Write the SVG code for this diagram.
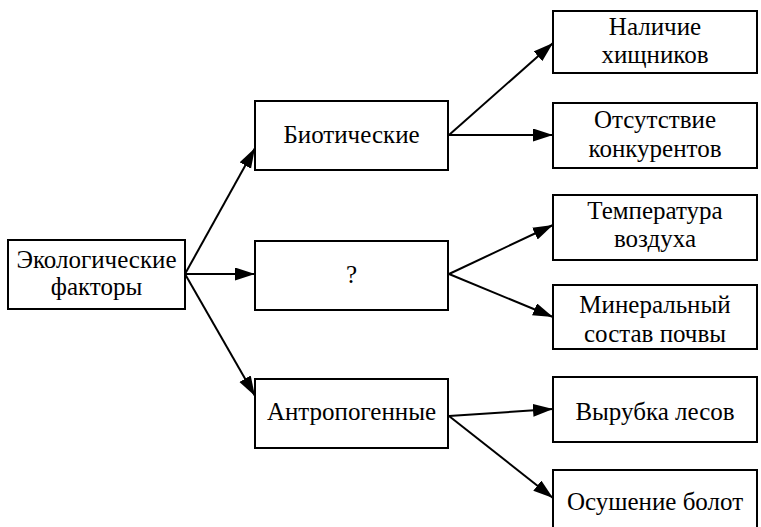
<svg xmlns="http://www.w3.org/2000/svg" width="761" height="527" viewBox="0 0 761 527">
<defs>
<marker id="ah" markerUnits="userSpaceOnUse" markerWidth="22" markerHeight="14" refX="20" refY="6.5" orient="auto">
<path d="M0,0 L20,6.5 L0,13 Z" fill="#000"/>
</marker>
<style>
.box{fill:#fff;stroke:#000;stroke-width:2}
text{font-family:'Liberation Serif','Times New Roman','DejaVu Serif',serif;font-size:25px;fill:#000;text-anchor:middle}
.c{stroke:#000;stroke-width:2;fill:none;marker-end:url(#ah)}
</style>
</defs>
<rect width="761" height="527" fill="#fff"/>
<g id="connectors">
<line class="c" x1="185" y1="274" x2="255" y2="148"/>
<line class="c" x1="185" y1="274" x2="255" y2="274"/>
<line class="c" x1="185" y1="274" x2="255" y2="396"/>
<line class="c" x1="449" y1="135" x2="553" y2="43"/>
<line class="c" x1="449" y1="135" x2="553" y2="135"/>
<line class="c" x1="449" y1="274" x2="553" y2="225"/>
<line class="c" x1="449" y1="274" x2="553" y2="317"/>
<line class="c" x1="449" y1="416" x2="553" y2="409"/>
<line class="c" x1="449" y1="416" x2="553" y2="498"/>
</g>
<g font-family="Liberation Serif, serif">
<g id="root"><rect class="box" x="8" y="240" width="177" height="69"/><text x="96.5" y="268">Экологические</text><text x="96.5" y="295">факторы</text></g>
<g id="biotic"><rect class="box" x="255" y="101" width="193" height="69"/><text x="351.5" y="143">Биотические</text></g>
<g id="unknown"><rect class="box" x="255" y="241" width="193" height="69"/><text x="351.5" y="283">?</text></g>
<g id="anthro"><rect class="box" x="255" y="379" width="193" height="69"/><text x="351.5" y="420">Антропогенные</text></g>
<g id="r1"><rect class="box" x="553" y="11" width="204" height="62"/><text x="655" y="35">Наличие</text><text x="655" y="63">хищников</text></g>
<g id="r2"><rect class="box" x="553" y="103" width="204" height="65"/><text x="655" y="128">Отсутствие</text><text x="655" y="157">конкурентов</text></g>
<g id="r3"><rect class="box" x="553" y="195" width="204" height="65"/><text x="655" y="219">Температура</text><text x="655" y="247">воздуха</text></g>
<g id="r4"><rect class="box" x="553" y="285" width="204" height="64"/><text x="655" y="313">Минеральный</text><text x="655" y="342">состав почвы</text></g>
<g id="r5"><rect class="box" x="553" y="377" width="204" height="65"/><text x="655" y="420">Вырубка лесов</text></g>
<g id="r6"><rect class="box" x="553" y="470" width="204" height="62"/><text x="655" y="510">Осушение болот</text></g>
</g>
</svg>
